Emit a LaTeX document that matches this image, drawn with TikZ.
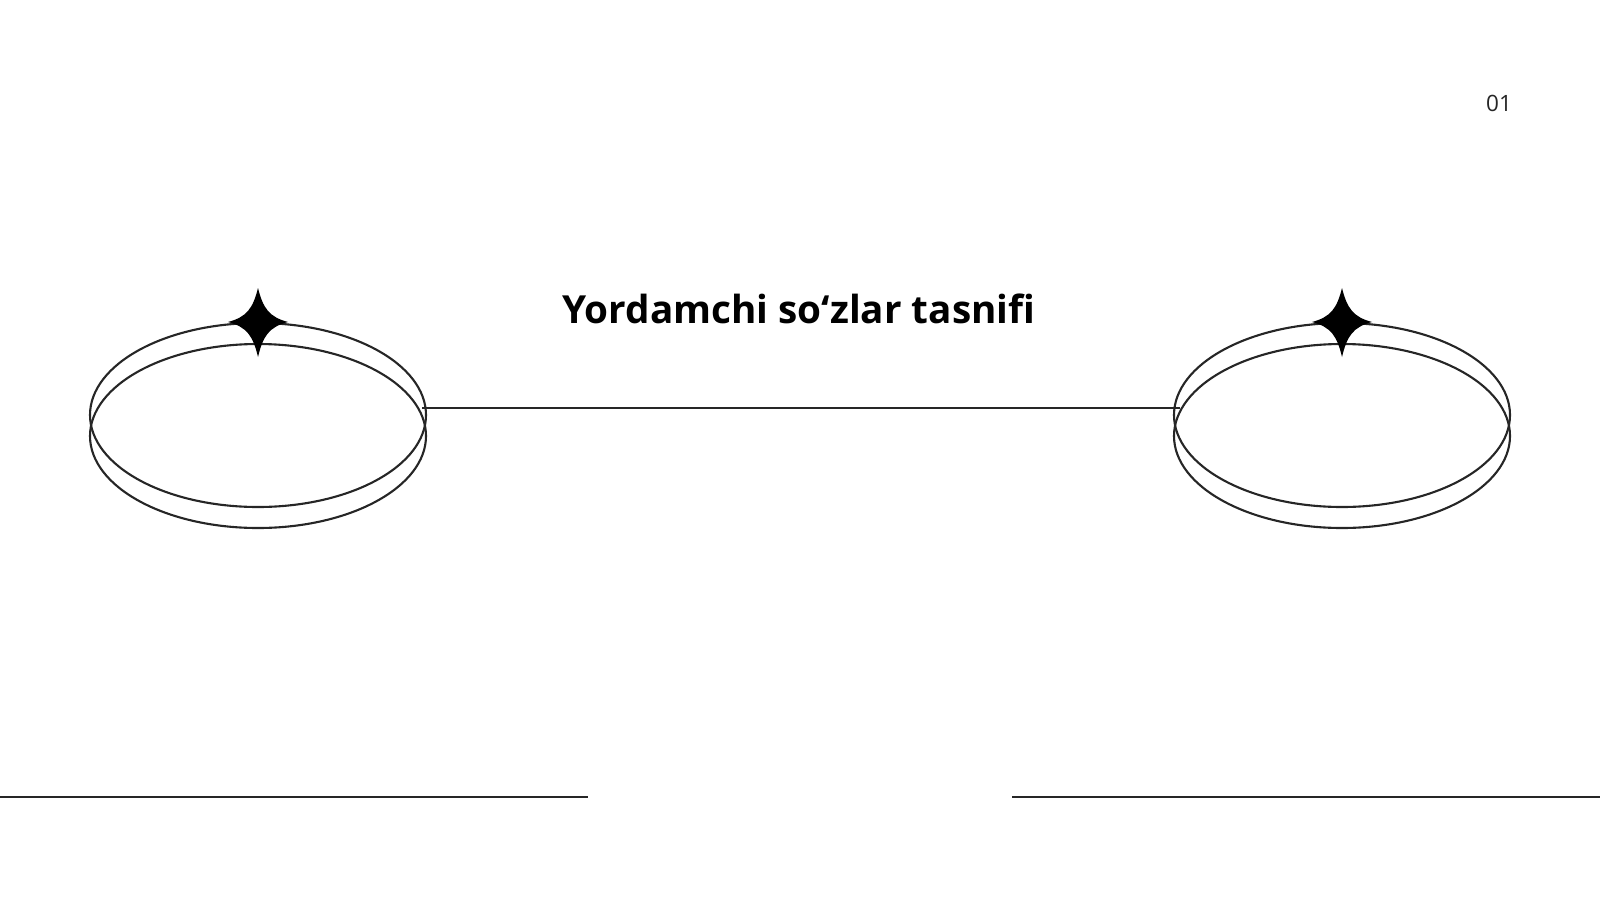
\documentclass[tikz,border=0pt]{standalone}
\usepackage{fontspec}
\setmainfont{Open Sans}
\usetikzlibrary{calc}
\begin{document}
\begin{tikzpicture}[x=0.01cm, y=-0.01cm]
    \tikzstyle{ring}=[draw,line width = .6pt,black!85]
    \tikzstyle{rule}=[draw,line width = .7pt,-,black!85]
    \tikzstyle{sparkle}=[fill=black,draw=none]
    \useasboundingbox (0,0) rectangle (1600,900);
    \coordinate (lc) at (258,415);
    \coordinate (rc) at (1342,415);
    \coordinate (lend) at (422,408);
    \coordinate (rend) at (1180,408);
    \coordinate (bl1) at (0,797);
    \coordinate (bl2) at (588,797);
    \coordinate (br1) at (1012,797);
    \coordinate (br2) at (1600,797);
    \foreach \c in {lc,rc} {
        \draw[ring] (\c) ellipse [x radius=168, y radius=92];
        \draw[ring] ($(\c)+(0,21)$) ellipse [x radius=168, y radius=92];
    }
    \foreach \cx in {258,1342} {
        \fill[sparkle] (\cx,288) .. controls (\cx+5,308) and (\cx+11,317) .. (\cx+30,322)
            .. controls (\cx+11,327) and (\cx+5,336) .. (\cx,357)
            .. controls (\cx-5,336) and (\cx-11,327) .. (\cx-30,322)
            .. controls (\cx-11,317) and (\cx-5,308) .. (\cx,288) -- cycle;
    }
    \draw[rule] (lend) -- (rend);
    \draw[rule] (bl1) -- (bl2);
    \draw[rule] (br1) -- (br2);
    \node (title) at (799,309) {\fontsize{11}{13}\selectfont\bfseries Yordamchi so‘zlar tasnifi};
    \node[text=black!85] (num) at (1499,103) {\fontsize{6.4}{8}\selectfont 01};
\end{tikzpicture}
\end{document}
